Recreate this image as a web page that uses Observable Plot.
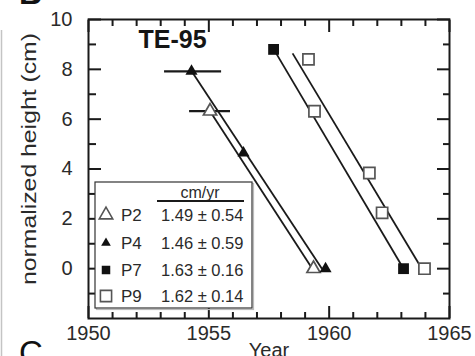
<!DOCTYPE html>
<html><head><meta charset="utf-8">
<script src="https://cdn.jsdelivr.net/npm/d3@7"></script>
<script src="https://cdn.jsdelivr.net/npm/@observablehq/plot@0.6"></script>
<style>
html,body{margin:0;padding:0;background:#fff;}
#chart{width:475px;height:356px;overflow:hidden;position:relative;}
svg{font-family:"Liberation Sans", Arial, sans-serif;}
</style></head><body><div id="chart"></div>
<script>
// ---- data ----
const seriesNames = ["P2", "P4", "P7", "P9"];
const seriesRates = ["1.49 \u00b1 0.54", "1.46 \u00b1 0.59", "1.63 \u00b1 0.16", "1.62 \u00b1 0.14"];
const pointSeries = ["P2","P2","P4","P4","P4","P7","P7","P9","P9","P9","P9","P9"];
const pointYear   = [1955.05,1959.35,1954.28,1956.44,1959.85,1957.69,1963.09,1959.14,1959.39,1961.67,1962.2,1963.96];
const pointHeight = [6.32,0,7.92,4.64,0,8.8,0,8.4,6.32,3.84,2.24,0];
const errSeries = ["P4", "P2"];
const errHeight = [7.92, 6.32];
const errYearLo = [1953.16, 1954.2];
const errYearHi = [1955.53, 1955.9];
const fitSeries  = ["P2", "P4", "P7", "P9"];
const fitYear1   = [1955.05, 1954.3, 1957.7, 1958.48];
const fitHeight1 = [6.32, 7.9, 8.8, 8.64];
const fitYear2   = [1959.3, 1959.7, 1963.09, 1963.85];
const fitHeight2 = [0, 0, 0, 0];
const xMajorTicks = [1950, 1955, 1960, 1965];
const xMinorTicks = [1951,1952,1953,1954,1956,1957,1958,1959,1961,1962,1963,1964];
const yMajorTicks = [0, 2, 4, 6, 8, 10];
const yMinorTicks = [-1, 1, 3, 5, 7, 9];
const titleText = "TE-95";
const xLabel = "Year";
const yLabel = "normalized height (cm)";
const legendHeader = "cm/yr";

// ---- tables ----
const points = pointYear.map((year, i) => ({s: pointSeries[i], year, h: pointHeight[i]}));
const errs = errHeight.map((h, i) => ({s: errSeries[i], h, lo: errYearLo[i], hi: errYearHi[i]}));
const fits = fitSeries.map((s, i) => ({s, x1: fitYear1[i], y1: fitHeight1[i], x2: fitYear2[i], y2: fitHeight2[i]}));

const style = {
  P2: {symbol: "triangle", fill: "white", stroke: "#555", r: 4.9, lr: 5.0},
  P4: {symbol: "triangle", fill: "#111", stroke: "none", r: 4.5, lr: 3.6},
  P7: {symbol: "square", fill: "#111", stroke: "none", r: 6.1, lr: 4.8},
  P9: {symbol: "square", fill: "white", stroke: "#555", r: 6.3, lr: 6.3}
};

const ink = "#1a1a1a";
const textCol = "#2a2a2a";

const plot = Plot.plot({
  width: 475, height: 356,
  marginLeft: 88, marginRight: 26, marginTop: 19, marginBottom: 38,
  style: {fontFamily: "'Liberation Sans', Arial, sans-serif", color: textCol, background: "white", overflow: "visible"},
  x: {domain: [1950, 1965]},
  y: {domain: [-2, 10]},
  marks: [
    Plot.link(fits, {x1: "x1", y1: "y1", x2: "x2", y2: "y2", stroke: ink, strokeWidth: 1.8}),
    Plot.ruleY(errs, {y: "h", x1: "lo", x2: "hi", stroke: ink, strokeWidth: 2.2}),
    ...seriesNames.map(k => Plot.dot(points.filter(d => d.s === k), {
      x: "year", y: "h", symbol: style[k].symbol, r: style[k].r,
      fill: style[k].fill, stroke: style[k].stroke, strokeWidth: 1.7
    })),
    Plot.frame({stroke: ink, strokeWidth: 2}),
    Plot.axisX({anchor: "bottom", ticks: xMajorTicks, tickSize: -12, tickPadding: 19, fontSize: 20, tickFormat: d => String(d), label: null, strokeWidth: 2, stroke: ink}),
    Plot.axisX({anchor: "bottom", ticks: xMinorTicks, tickSize: -6, tickFormat: () => "", label: null, strokeWidth: 2, stroke: ink}),
    Plot.axisX({anchor: "top", ticks: xMajorTicks, tickSize: -12, tickFormat: () => "", label: null, strokeWidth: 2, stroke: ink}),
    Plot.axisX({anchor: "top", ticks: xMinorTicks, tickSize: -6, tickFormat: () => "", label: null, strokeWidth: 2, stroke: ink}),
    Plot.axisY({anchor: "left", ticks: yMajorTicks, tickSize: -13, tickPadding: 29, fontSize: 20, tickFormat: d => String(d), label: null, strokeWidth: 2, stroke: ink}),
    Plot.axisY({anchor: "left", ticks: yMinorTicks, tickSize: -8, tickFormat: () => "", label: null, strokeWidth: 2, stroke: ink}),
    Plot.axisY({anchor: "right", ticks: yMajorTicks, tickSize: -13, tickFormat: () => "", label: null, strokeWidth: 2, stroke: ink}),
    Plot.axisY({anchor: "right", ticks: yMinorTicks, tickSize: -7, tickFormat: () => "", label: null, strokeWidth: 2, stroke: ink}),
    Plot.text([titleText], {frameAnchor: "top-left", dx: 50, dy: 11, textAnchor: "start", lineAnchor: "top", fontSize: 25, fontWeight: "bold", fill: "#151515"}),
    Plot.text([xLabel], {frameAnchor: "bottom", dy: 24, lineAnchor: "top", fontSize: 20, fill: textCol})
  ]
});

document.getElementById("chart").appendChild(plot);

const svg = d3.select(plot);

// ---- y axis title (rotated, stretched to the reference length) ----
svg.append("text")
  .attr("transform", "translate(36,285) rotate(-90)")
  .attr("text-anchor", "start")
  .attr("font-family", "'Liberation Sans', Arial, sans-serif")
  .attr("font-size", 21)
  .attr("fill", textCol)
  .attr("textLength", 252).attr("lengthAdjust", "spacingAndGlyphs")
  .text(yLabel);

// ---- legend (inside frame, lower left) ----
const lg = svg.append("g").attr("font-family", "'Liberation Sans', Arial, sans-serif").attr("fill", textCol).attr("text-anchor", "start");
lg.append("rect").attr("x", 96.5).attr("y", 183.5).attr("width", 157).attr("height", 126).attr("fill", "none").attr("stroke", "#bbb").attr("stroke-width", 1.2);
lg.append("rect").attr("x", 95).attr("y", 182).attr("width", 157).attr("height", 126).attr("fill", "white").attr("stroke", "#333").attr("stroke-width", 1.2);
lg.append("text").attr("x", 200).attr("y", 198).attr("text-anchor", "middle").attr("font-size", 16).text(legendHeader);
lg.append("line").attr("x1", 157).attr("x2", 244).attr("y1", 201).attr("y2", 201).attr("stroke", ink).attr("stroke-width", 2);
const rowY = [215, 243, 270, 296];
seriesNames.forEach((k, i) => {
  const st = style[k];
  const sym = st.symbol === "triangle" ? d3.symbolTriangle : d3.symbolSquare;
  lg.append("path").attr("d", d3.symbol(sym, Math.PI * st.lr * st.lr)())
    .attr("transform", `translate(106,${rowY[i]})`)
    .attr("fill", st.fill).attr("stroke", st.stroke).attr("stroke-width", 1.6);
  lg.append("text").attr("x", 121).attr("y", rowY[i] + 6).attr("font-size", 17).text(k);
  lg.append("text").attr("x", 161).attr("y", rowY[i] + 6).attr("font-size", 16.5).text(seriesRates[i]);
});

// ---- cropped neighbours of the source figure ----
svg.append("line").attr("x1", 1.5).attr("x2", 1.5).attr("y1", 30).attr("y2", 356).attr("stroke", "#c4c4c4").attr("stroke-width", 1.5);
svg.append("text").attr("x", 19).attr("y", 4).attr("text-anchor", "start").attr("font-size", 32).attr("font-weight", "bold").attr("fill", "#111").text("B");
svg.append("text").attr("x", 19).attr("y", 364).attr("text-anchor", "start").attr("font-size", 33).attr("fill", "#111").text("C");
</script></body></html>
